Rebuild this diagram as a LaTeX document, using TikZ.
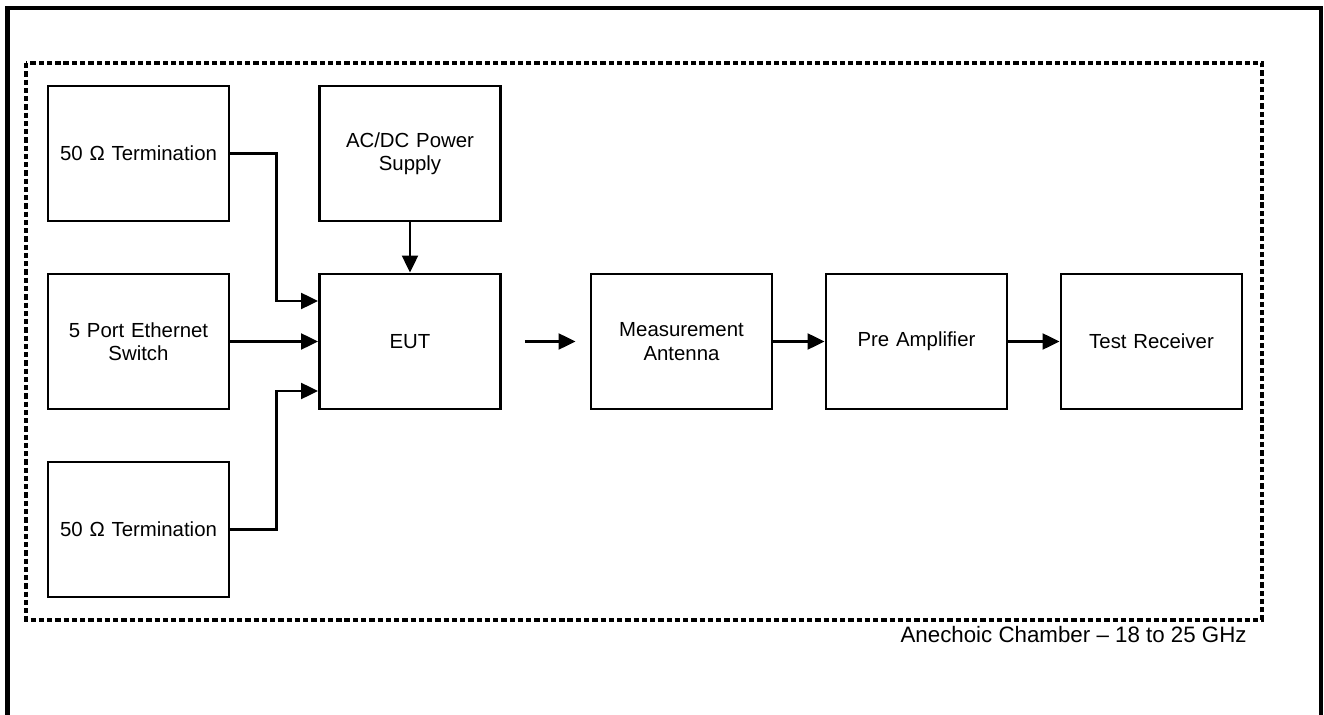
\documentclass[tikz,border=0pt]{standalone}
\usepackage{fontspec}
\setmainfont{Liberation Sans}
\usetikzlibrary{arrows.meta,calc}

\tikzstyle{block} = [rectangle, draw, line width=1.6pt,
	text width=3.3cm, text centered, minimum width=3.62cm, minimum height=2.7cm,
	font=\fontsize{11.6}{13.2}\selectfont]
\tikzstyle{wire} = [line width=1.6pt, -{Triangle[length=9.7pt,width=9pt]}]

\begin{document}
\begin{tikzpicture}[node distance = 3.76cm, auto]
	\useasboundingbox (0,0) rectangle (26.48,-14.3);
	% outer frame, open at the bottom
	\draw[line width=2.8pt] (0.15,-14.5) -- (0.15,-0.16) -- (26.42,-0.16) -- (26.42,-14.5);
	% chamber
	\draw[line width=1.9pt, dash pattern=on 3pt off 1.7pt] (0.52,-1.26) rectangle (25.24,-12.4);
	\node [anchor=east, inner sep=0pt, font=\fontsize{12.7}{14}\selectfont] (AC) at (24.94,-12.7) {Anechoic Chamber -- 18 to 25 GHz};
	
	\node [block] (SW) at (2.77,-6.83) {5 Port Ethernet\\ Switch};
	\node [block, above of=SW] (T1) {50 Ω Termination};
	\node [block, below of=SW] (T2) {50 Ω Termination};
	\node [block, right of=SW, node distance=5.43cm] (EUT) {EUT};
	\node [block, above of=EUT] (PS) {AC/DC Power\\ Supply};
	\node [block, right of=EUT, node distance=5.43cm] (MA) {Measurement\\ Antenna};
	\node [block, right of=MA, node distance=4.7cm] (PA) {Pre Amplifier};
	\node [block, right of=PA, node distance=4.7cm] (TR) {Test Receiver};
	
	\draw[wire] (T1.east) -- ++(0.92,0) |- ([yshift=0.81cm]EUT.west);
	\draw[wire] (T2.east) -- ++(0.92,0) |- ([yshift=-0.99cm]EUT.west);
	
	\path[wire]
	(SW) edge (EUT)
	(PS) edge (EUT);
	
	\draw[wire] ([xshift=0.46cm]EUT.east) -- ([xshift=-0.28cm]MA.west);
	
	\path[wire]
	(MA) edge (PA)
	(PA) edge (TR);
\end{tikzpicture}
\end{document}
